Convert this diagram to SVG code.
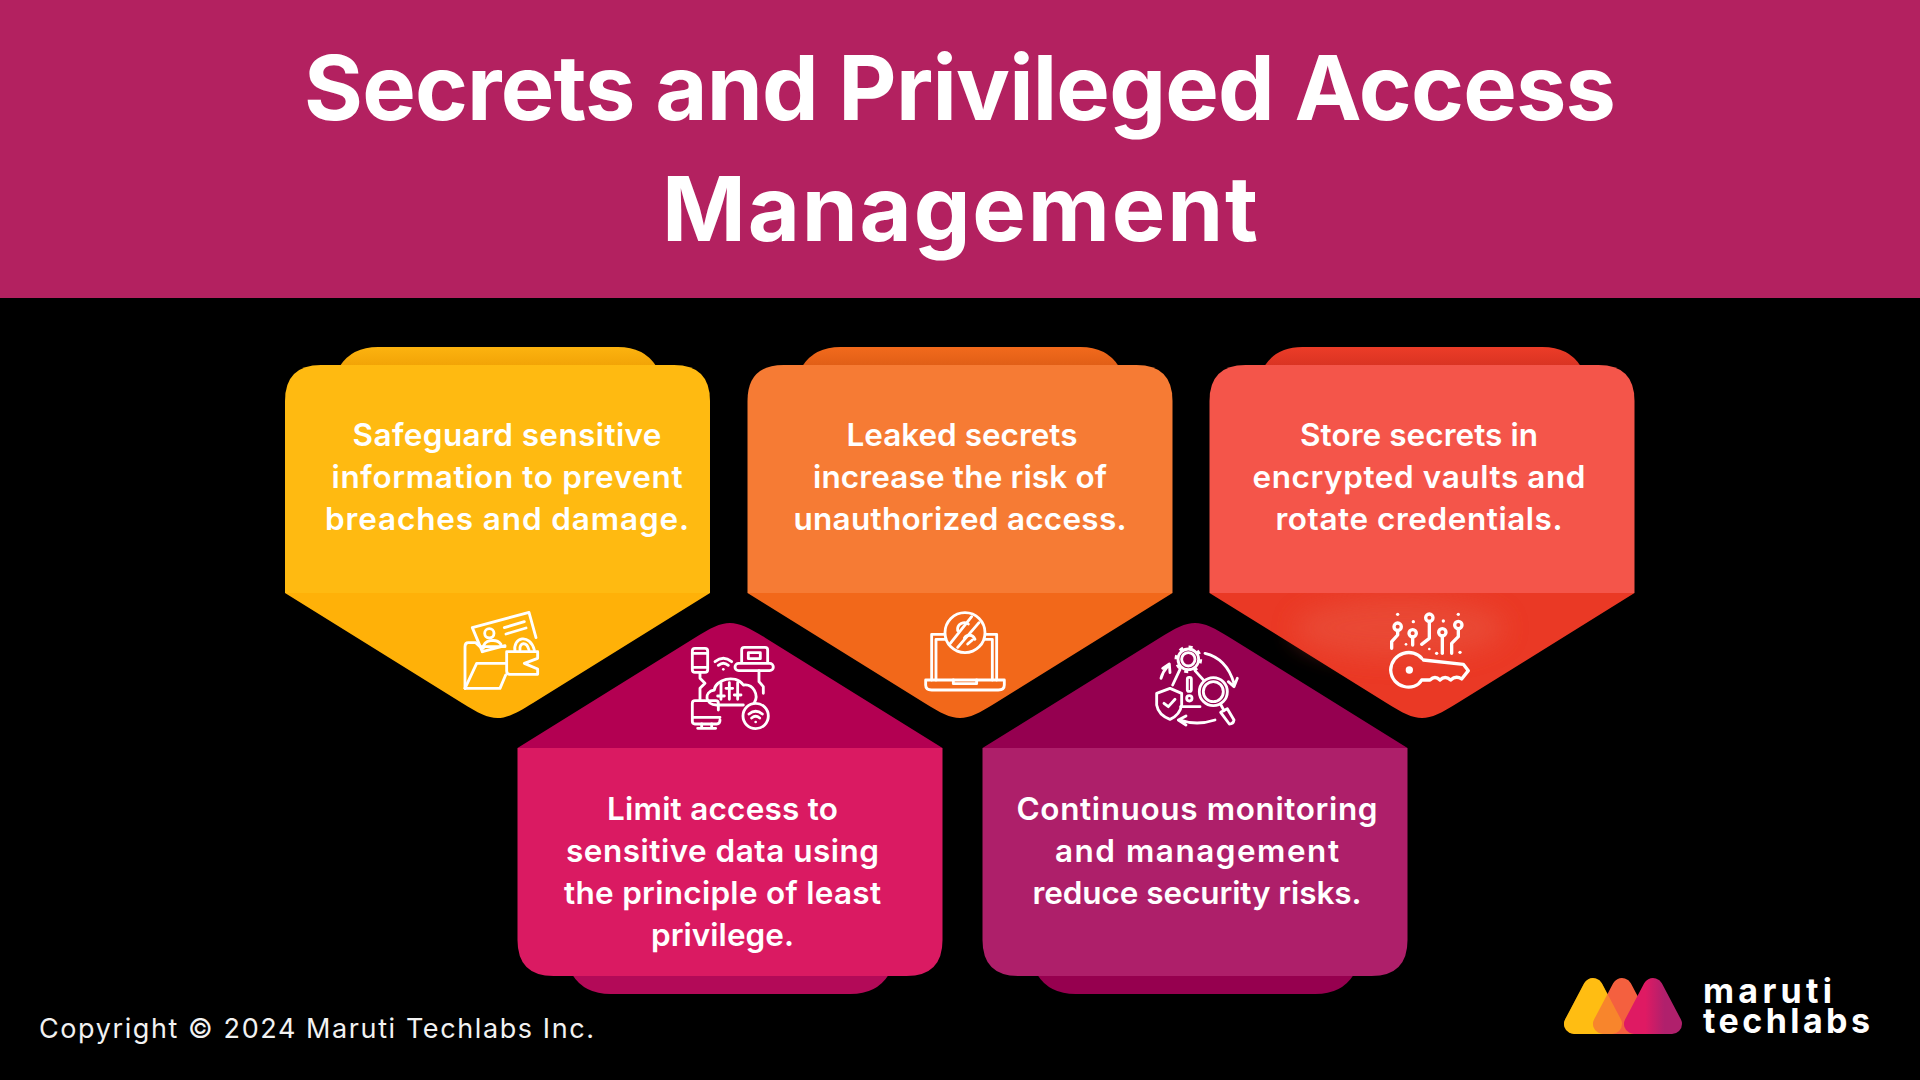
<svg xmlns="http://www.w3.org/2000/svg" width="1920" height="1080" viewBox="0 0 1920 1080">
<style>
text{font-family:Inter,"Liberation Sans",sans-serif;fill:#fff;text-anchor:middle}
.title{font-size:90px;font-weight:700}
.lbl{font-size:31.5px;font-weight:600}
.foot{font-size:27px;font-weight:400;text-anchor:start;fill:#f2f2f2}
.logo{font-size:34px;font-weight:700;text-anchor:start}
.ic{fill:none;stroke:#fff;stroke-width:8.5;stroke-linecap:round;stroke-linejoin:round}
.dot{fill:#fff;stroke:none}
</style>
<defs>
<path id="full" d="M285,593 L462,703 C494,723 501,723 533,703 L710,593 Z"/>
<path id="body" d="M285,593 V401 Q285,365 321,365 H674 Q710,365 710,401 V593 Z"/>
<path id="tab" d="M340,366 Q352,347 378,347 H618 Q644,347 656,366 Z"/>
<linearGradient id="tabY" x1="0" y1="0" x2="0" y2="1"><stop offset="0" stop-color="#FCB30F"/><stop offset="1" stop-color="#F2A306"/></linearGradient>
<linearGradient id="tabO" x1="0" y1="0" x2="0" y2="1"><stop offset="0" stop-color="#F26A1C"/><stop offset="1" stop-color="#E05E16"/></linearGradient>
<linearGradient id="tabR" x1="0" y1="0" x2="0" y2="1"><stop offset="0" stop-color="#EC3C28"/><stop offset="1" stop-color="#D93322"/></linearGradient>
<linearGradient id="logoR" x1="0" y1="0" x2="1" y2="0"><stop offset="0.3" stop-color="#DF1A63"/><stop offset="0.8" stop-color="#B0206C"/></linearGradient>
<filter id="soft" x="-30%" y="-50%" width="160%" height="200%"><feGaussianBlur stdDeviation="12"/></filter>
</defs>
<rect width="1920" height="1080" fill="#000"/>
<g id="header">
<rect width="1920" height="298" fill="#B32160"/>
<text class="title" x="960" y="120" textLength="1312">Secrets and Privileged Access</text>
<text class="title" x="960" y="241" textLength="596">Management</text>
</g>
<g id="connectors"/>

<g id="card-safeguard">
<use href="#tab" fill="url(#tabY)"/>
<use href="#full" fill="#FFB108"/>
<use href="#body" fill="#FFBA11"/>
<text class="lbl" x="507" y="446" textLength="309">Safeguard sensitive</text>
<text class="lbl" x="507" y="488" textLength="351">information to prevent</text>
<text class="lbl" x="507" y="530" textLength="364">breaches and damage.</text>
<g class="ic" transform="translate(455,605) scale(.3333)">
<path d="M82,140 L52,68 L222,22 L243,98"/>
<path d="M82,140 L150,122"/>
<circle cx="103" cy="85" r="14"/>
<path d="M85,130 C85,103 125,100 138,118"/>
<path d="M148,68 L208,50 M153,87 L213,69"/>
<path d="M180,140 C172,95 225,85 238,135 M195,135 C192,112 215,108 222,135"/>
<path d="M155,140 H248 V160 L208,175 L248,192 V208 H165 Q155,208 155,198 Z"/>
<path d="M150,125 H75 L62,113 H40 Q30,113 30,125 V250"/>
<path d="M30,250 L65,175 H155"/>
<path d="M30,250 H135 L152,210"/>
</g>
</g>

<g id="card-leaked">
<use href="#tab" x="462.5" fill="url(#tabO)"/>
<use href="#full" x="462.5" fill="#F2681A"/>
<use href="#body" x="462.5" fill="#F67B34"/>
<text class="lbl" x="962" y="446" textLength="231">Leaked secrets</text>
<text class="lbl" x="960" y="488" textLength="294">increase the risk of</text>
<text class="lbl" x="960" y="530" textLength="333">unauthorized access.</text>
<g class="ic" transform="translate(915,600) scale(.3333)">
<circle cx="150" cy="98" r="60"/>
<path d="M106,130 L170,50 M128,142 L192,68"/>
<path d="M128,92 C125,72 148,62 160,72 M180,118 C172,100 155,105 148,114 M158,132 L172,120"/>
<path d="M88,103 H50 V240 M212,103 H245 V240"/>
<path d="M63,240 V118 H92 M232,240 V118 H208"/>
<path d="M32,240 H268 V255 Q268,270 250,270 H50 Q32,270 32,255 Z"/>
<path d="M115,240 V251 H185 V240"/>
</g>
</g>

<g id="card-store">
<use href="#tab" x="924.5" fill="url(#tabR)"/>
<use href="#full" x="924.5" fill="#EA3925"/>
<ellipse cx="1400" cy="628" rx="105" ry="30" fill="#E9503A" opacity=".7" filter="url(#soft)"/>
<use href="#body" x="924.5" fill="#F4554A"/>
<text class="lbl" x="1419" y="446" textLength="238">Store secrets in</text>
<text class="lbl" x="1419" y="488" textLength="333">encrypted vaults and</text>
<text class="lbl" x="1419" y="530" textLength="287">rotate credentials.</text>
<g class="ic" transform="translate(1380,605) scale(.3333)" style="stroke-width:10">
<path d="M125,160 C100,128 35,140 32,195 C35,250 105,262 125,225 H150 Q165,210 180,225 Q195,210 212,225 Q228,210 245,222 L265,197 L250,178 L130,165"/>
<circle class="dot" cx="88" cy="195" r="11"/>
<circle cx="53" cy="65" r="11"/><path d="M53,76 V90 L35,110 V130"/>
<circle cx="98" cy="85" r="11"/><path d="M98,96 V120"/>
<circle cx="148" cy="38" r="11"/><path d="M148,49 V100 L125,118"/>
<circle cx="187" cy="82" r="11"/><path d="M187,93 V145"/>
<circle cx="235" cy="60" r="11"/><path d="M235,71 V95 L215,115 V145"/>
<circle class="dot" cx="53" cy="28" r="5"/><circle class="dot" cx="100" cy="50" r="5"/><circle class="dot" cx="190" cy="48" r="5"/><circle class="dot" cx="235" cy="28" r="5"/>
<circle class="dot" cx="170" cy="145" r="5"/><circle class="dot" cx="240" cy="142" r="5"/><circle class="dot" cx="78" cy="118" r="4"/><circle class="dot" cx="148" cy="132" r="4"/>
</g>
</g>

<g id="card-limit">
<use href="#tab" transform="translate(232.5,1341) scale(1,-1)" fill="#B30A58"/>
<use href="#full" transform="translate(232.5,1341) scale(1,-1)" fill="#B30052"/>
<use href="#body" transform="translate(232.5,1341) scale(1,-1)" fill="#DA1A62"/>
<text class="lbl" x="722.5" y="820" textLength="231">Limit access to</text>
<text class="lbl" x="722.5" y="862" textLength="313">sensitive data using</text>
<text class="lbl" x="722.5" y="904" textLength="317">the principle of least</text>
<text class="lbl" x="722.5" y="946" textLength="143">privilege.</text>
<g class="ic" transform="translate(685,640) scale(.3333)">
<rect x="22" y="25" width="46" height="72" rx="8"/><path d="M22,40 H68 M22,82 H68"/>
<path d="M90,65 Q115,45 140,65 M100,76 Q115,63 130,76"/><circle class="dot" cx="115" cy="88" r="4"/>
<path d="M170,68 V30 Q170,22 178,22 H240 Q248,22 248,30 V68"/>
<rect x="190" y="38" width="36" height="18"/>
<rect x="150" y="70" width="115" height="22" rx="11"/>
<path d="M45,97 V115 L60,130 L45,145 V180"/>
<path d="M222,92 V125 L235,140 V160"/>
<path d="M95,195 C60,195 55,155 88,150 C90,120 150,100 175,135 C205,130 222,165 208,188 M95,195 H175"/>
<path d="M108,128 V178 M98,168 H118 M133,128 V178 M123,145 H143 M158,128 V178 M148,165 H168"/>
<path d="M100,210 V190 Q100,182 92,182 H30 Q22,182 22,190 V244 Q22,252 30,252 H95 Q105,252 105,240 M22,232 H105"/>
<path d="M50,252 V264 M80,252 V264 M38,265 H92"/>
<circle cx="212" cy="228" r="38"/>
<path d="M192,222 Q212,205 232,222 M200,234 Q212,224 224,234"/><circle class="dot" cx="212" cy="246" r="4"/>
</g>
</g>

<g id="card-continuous">
<use href="#tab" transform="translate(697.5,1341) scale(1,-1)" fill="#96004F"/>
<use href="#full" transform="translate(697.5,1341) scale(1,-1)" fill="#950050"/>
<use href="#body" transform="translate(697.5,1341) scale(1,-1)" fill="#AE1F6A"/>
<text class="lbl" x="1197" y="820" textLength="361">Continuous monitoring</text>
<text class="lbl" x="1197" y="862" textLength="284">and management</text>
<text class="lbl" x="1197" y="904" textLength="329">reduce security risks.</text>
<g class="ic" transform="translate(1150,640) scale(.3333)">
<circle cx="115" cy="58" r="20"/>
<circle cx="115" cy="58" r="31"/>
<circle cx="115" cy="58" r="37" stroke-width="9" stroke-dasharray="12 17" stroke-linecap="butt"/>
<path d="M90,88 L68,135 M135,92 L162,122 M92,200 H150"/>
<rect x="112" y="112" width="12" height="42" rx="5"/>
<circle cx="118" cy="175" r="8"/>
<circle cx="190" cy="155" r="42"/><circle cx="190" cy="155" r="30"/>
<path d="M213,195 L222,212 M212,217 L232,206 L252,240 Q250,252 238,252 Z"/>
<path d="M60,145 L95,160 V195 Q90,225 60,238 Q25,225 20,195 V160 Z"/>
<path d="M42,190 L55,200 L75,178"/>
<path d="M165,40 Q230,55 252,130 M235,125 L252,140 L262,115"/>
<path d="M90,240 Q140,258 195,240 M108,228 L85,240 L108,255"/>
<path d="M33,115 Q38,95 52,80 M38,85 L58,72 L60,98"/>
</g>
</g>

<text class="foot" x="39" y="1038" textLength="555">Copyright © 2024 Maruti Techlabs Inc.</text>

<g id="logo">
<polygon points="1593,988 1574,1024 1612,1024" fill="#FFBD12" stroke="#FFBD12" stroke-width="20" stroke-linejoin="round"/>
<polygon points="1622,988 1603,1024 1641,1024" fill="#F4603F" stroke="#F4603F" stroke-width="20" stroke-linejoin="round"/>
<polygon points="1593,988 1574,1024 1612,1024" fill="#FFBD12" stroke="#FFBD12" stroke-width="20" stroke-linejoin="round" opacity=".4"/>
<polygon points="1653,988 1634,1024 1672,1024" fill="url(#logoR)" stroke="url(#logoR)" stroke-width="20" stroke-linejoin="round"/>
<text class="logo" x="1703" y="1003" textLength="129">maruti</text>
<text class="logo" x="1703" y="1033" textLength="167">techlabs</text>
</g>
</svg>
